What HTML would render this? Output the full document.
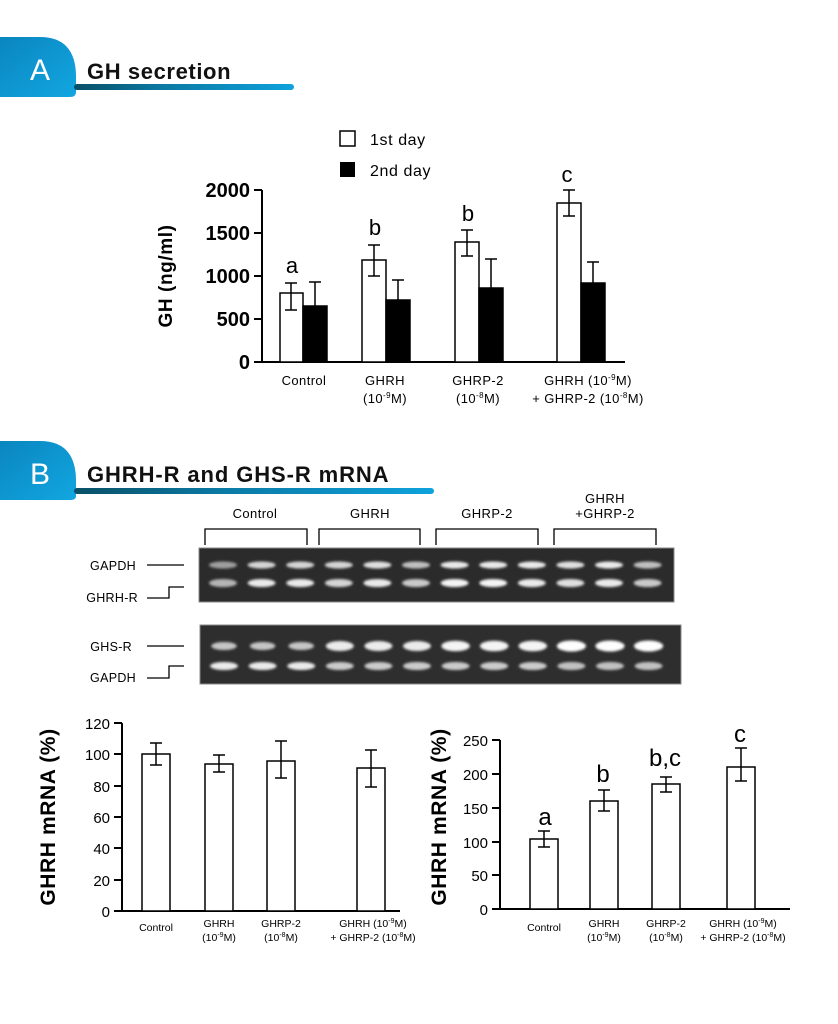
<!DOCTYPE html>
<html><head><meta charset="utf-8"><style>
html,body{margin:0;padding:0;background:#fff;}
svg{display:block;font-family:"Liberation Sans",sans-serif;}
</style></head><body>
<svg id="s" width="838" height="1024" viewBox="0 0 838 1024" xmlns="http://www.w3.org/2000/svg">
<defs>
<linearGradient id="lg" x1="0" x2="1" y1="0" y2="0"><stop offset="0" stop-color="#0a4f66"/><stop offset="0.4" stop-color="#0b79a3"/><stop offset="1" stop-color="#0ea2dc"/></linearGradient>
<linearGradient id="bg" x1="0" x2="1" y1="0" y2="1"><stop offset="0" stop-color="#0a86c0"/><stop offset="1" stop-color="#12a6e0"/></linearGradient>
<filter id="bl" x="-30%" y="-60%" width="160%" height="220%"><feGaussianBlur stdDeviation="1.3"/></filter>
</defs>
<!-- Header A -->
<path d="M0 37 H40 Q75 37 76 75 V92 Q76 97 70 97 H0 Z" fill="url(#bg)"/>
<rect x="74" y="84" width="220" height="6" rx="3" fill="url(#lg)"/>
<text x="40" y="80" font-size="30" fill="#fff" text-anchor="middle">A</text>
<text x="87" y="79" font-size="22" font-weight="bold" fill="#111" letter-spacing="0.6">GH secretion</text>
<!-- Header B -->
<path d="M0 441 H40 Q75 441 76 479 V496 Q76 500 70 500 H0 Z" fill="url(#bg)"/>
<rect x="74" y="488" width="360" height="6" rx="3" fill="url(#lg)"/>
<text x="40" y="484" font-size="30" fill="#fff" text-anchor="middle">B</text>
<text x="87" y="482" font-size="22" font-weight="bold" fill="#111" letter-spacing="0.9">GHRH-R and GHS-R mRNA</text>

<!-- Legend -->
<rect x="340" y="131" width="15" height="15" fill="#fff" stroke="#000" stroke-width="1.5"/>
<text x="370" y="145" font-size="16" letter-spacing="0.6">1st day</text>
<rect x="340" y="162" width="15" height="15" fill="#000"/>
<text x="370" y="176" font-size="16" letter-spacing="0.6">2nd day</text>

<g id="chartA" stroke="#000" stroke-width="2" fill="none">
<path d="M262 190 V362 H625"/>
<path d="M254 190H262M254 233H262M254 276H262M254 319H262M254 362H262"/>
</g>
<g font-size="20" font-weight="bold" text-anchor="end">
<text x="250" y="197">2000</text><text x="250" y="240">1500</text><text x="250" y="283">1000</text><text x="250" y="326">500</text><text x="250" y="369">0</text>
</g>
<text transform="translate(172 276) rotate(-90)" font-size="19" font-weight="bold" text-anchor="middle" letter-spacing="0.6">GH (ng/ml)</text>
<g stroke="#000" stroke-width="1.5">
<rect x="280" y="293" width="23" height="69" fill="#fff"/><rect x="303" y="306" width="24" height="56" fill="#000"/>
<rect x="362" y="260" width="24" height="102" fill="#fff"/><rect x="386" y="300" width="24" height="62" fill="#000"/>
<rect x="455" y="242" width="24" height="120" fill="#fff"/><rect x="479" y="288" width="24" height="74" fill="#000"/>
<rect x="557" y="203" width="24" height="159" fill="#fff"/><rect x="581" y="283" width="24" height="79" fill="#000"/>
</g>
<g stroke="#000" stroke-width="1.5" fill="none">
<path d="M291 283V310M285 283H297M285 310H297"/>
<path d="M315 282V306M309 282H321"/>
<path d="M374 245V276M368 245H380M368 276H380"/>
<path d="M398 280V300M392 280H404"/>
<path d="M467 230V256M461 230H473M461 256H473"/>
<path d="M491 259V288M485 259H497"/>
<path d="M569 190V216M563 190H575M563 216H575"/>
<path d="M593 262V283M587 262H599"/>
</g>
<g font-size="22" text-anchor="middle">
<text x="292" y="273">a</text><text x="375" y="235">b</text><text x="468" y="221">b</text><text x="567" y="182">c</text>
</g>
<g font-size="13" text-anchor="middle" letter-spacing="0.4">
<text x="304" y="385">Control</text>
<text x="385" y="385">GHRH</text><text x="385" y="403">(10<tspan font-size="8" dy="-5">-9</tspan><tspan dy="5">M)</tspan></text>
<text x="478" y="385">GHRP-2</text><text x="478" y="403">(10<tspan font-size="8" dy="-5">-8</tspan><tspan dy="5">M)</tspan></text>
<text x="588" y="385">GHRH (10<tspan font-size="8" dy="-5">-9</tspan><tspan dy="5">M)</tspan></text><text x="588" y="403">+ GHRP-2 (10<tspan font-size="8" dy="-5">-8</tspan><tspan dy="5">M)</tspan></text>
</g>

<!-- Gel labels -->
<g font-size="13" text-anchor="middle" letter-spacing="0.4">
<text x="255" y="518">Control</text><text x="370" y="518">GHRH</text><text x="487" y="518">GHRP-2</text>
<text x="605" y="503">GHRH</text><text x="605" y="518">+GHRP-2</text>
</g>
<g stroke="#000" stroke-width="1.3" fill="none">
<path d="M205 545V529H307V545M319 545V529H420V545M436 545V529H538V545M554 545V529H656V545"/>
<path d="M147 565H184M147 598H169V587H184M147 646H184M147 678H169V666H184"/>
</g>
<g font-size="12.5" text-anchor="end" letter-spacing="0.3">
<text x="136" y="570">GAPDH</text><text x="138" y="602">GHRH-R</text>
<text x="132" y="651">GHS-R</text><text x="136" y="682">GAPDH</text>
</g>
<rect x="199" y="548" width="475" height="54" fill="#2b2b2b" stroke="#888" stroke-width="1"/>
<rect x="200" y="625" width="481" height="59" fill="#2e2e2e" stroke="#888" stroke-width="1"/>
<g id="bands" filter="url(#bl)"></g>

<!-- Chart B left -->
<g stroke="#000" stroke-width="2" fill="none">
<path d="M122 723V911H400"/>
<path d="M114 723H122M114 754H122M114 786H122M114 817H122M114 848H122M114 880H122M114 911H122"/>
</g>
<g font-size="15" text-anchor="end">
<text x="110" y="729">120</text><text x="110" y="760">100</text><text x="110" y="792">80</text><text x="110" y="823">60</text><text x="110" y="854">40</text><text x="110" y="886">20</text><text x="110" y="917">0</text>
</g>
<text transform="translate(55 817) rotate(-90)" font-size="21" font-weight="bold" text-anchor="middle" letter-spacing="0.6">GHRH mRNA (%)</text>
<g stroke="#000" stroke-width="1.5" fill="#fff">
<rect x="142" y="754" width="28" height="157"/><rect x="205" y="764" width="28" height="147"/>
<rect x="267" y="761" width="28" height="150"/><rect x="357" y="768" width="28" height="143"/>
</g>
<g stroke="#000" stroke-width="1.5" fill="none">
<path d="M156 743V765M150 743H162M150 765H162"/>
<path d="M219 755V772M213 755H225M213 772H225"/>
<path d="M281 741V778M275 741H287M275 778H287"/>
<path d="M371 750V787M365 750H377M365 787H377"/>
</g>
<g font-size="10.5" text-anchor="middle">
<text x="156" y="931">Control</text>
<text x="219" y="927">GHRH</text><text x="219" y="941">(10<tspan font-size="7" dy="-4">-9</tspan><tspan dy="4">M)</tspan></text>
<text x="281" y="927">GHRP-2</text><text x="281" y="941">(10<tspan font-size="7" dy="-4">-8</tspan><tspan dy="4">M)</tspan></text>
<text x="373" y="927">GHRH (10<tspan font-size="7" dy="-4">-9</tspan><tspan dy="4">M)</tspan></text><text x="373" y="941">+ GHRP-2 (10<tspan font-size="7" dy="-4">-8</tspan><tspan dy="4">M)</tspan></text>
</g>

<!-- Chart B right -->
<g stroke="#000" stroke-width="2" fill="none">
<path d="M500 740V909H790"/>
<path d="M492 740H500M492 774H500M492 808H500M492 842H500M492 875H500M492 909H500"/>
</g>
<g font-size="15" text-anchor="end">
<text x="488" y="746">250</text><text x="488" y="780">200</text><text x="488" y="814">150</text><text x="488" y="848">100</text><text x="488" y="881">50</text><text x="488" y="915">0</text>
</g>
<text transform="translate(446 817) rotate(-90)" font-size="21" font-weight="bold" text-anchor="middle" letter-spacing="0.6">GHRH mRNA (%)</text>
<g stroke="#000" stroke-width="1.5" fill="#fff">
<rect x="530" y="839" width="28" height="70"/><rect x="590" y="801" width="28" height="108"/>
<rect x="652" y="784" width="28" height="125"/><rect x="727" y="767" width="28" height="142"/>
</g>
<g stroke="#000" stroke-width="1.5" fill="none">
<path d="M544 831V847M538 831H550M538 847H550"/>
<path d="M604 790V811M598 790H610M598 811H610"/>
<path d="M666 777V792M660 777H672M660 792H672"/>
<path d="M741 748V781M735 748H747M735 781H747"/>
</g>
<g font-size="24" text-anchor="middle">
<text x="545" y="825">a</text><text x="603" y="782">b</text><text x="665" y="766">b,c</text><text x="740" y="742">c</text>
</g>
<g font-size="10.5" text-anchor="middle">
<text x="544" y="931">Control</text>
<text x="604" y="927">GHRH</text><text x="604" y="941">(10<tspan font-size="7" dy="-4">-9</tspan><tspan dy="4">M)</tspan></text>
<text x="666" y="927">GHRP-2</text><text x="666" y="941">(10<tspan font-size="7" dy="-4">-8</tspan><tspan dy="4">M)</tspan></text>
<text x="743" y="927">GHRH (10<tspan font-size="7" dy="-4">-9</tspan><tspan dy="4">M)</tspan></text><text x="743" y="941">+ GHRP-2 (10<tspan font-size="7" dy="-4">-8</tspan><tspan dy="4">M)</tspan></text>
</g>
</svg>
<script>
var g=document.getElementById('bands'),h="";
var b1=[.55,.8,.8,.8,.85,.7,.9,.9,.9,.85,.9,.7],b2=[.65,.9,.9,.8,.9,.75,.95,.95,.9,.85,.9,.75];
var c1=[.6,.6,.6,1,1,1,1.1,1.1,1.1,1.2,1.2,1.2],c2=[.9,.9,.9,.75,.75,.75,.75,.75,.75,.7,.7,.7];
for(var i=0;i<12;i++){var x=223+i*38.6;
h+='<ellipse cx="'+x+'" cy="565" rx="14" ry="3.5" fill="#fff" opacity="'+b1[i]+'"/>';
h+='<ellipse cx="'+x+'" cy="583" rx="14" ry="4" fill="#fff" opacity="'+b2[i]+'"/>';
h+='<ellipse cx="'+(x+1)+'" cy="646" rx="'+(11+3*c1[i])+'" ry="'+(2.5+2.5*c1[i])+'" fill="#fff" opacity="'+Math.min(1,.45+.45*c1[i])+'"/>';
h+='<ellipse cx="'+(x+1)+'" cy="666" rx="14" ry="4" fill="#fff" opacity="'+c2[i]+'"/>';}
g.innerHTML=h;
</script>
</body></html>
